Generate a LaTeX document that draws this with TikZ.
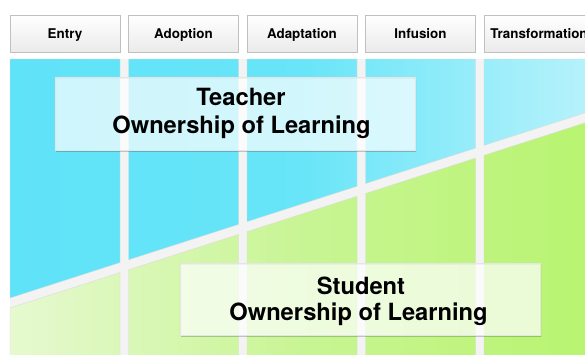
\documentclass[tikz,border=0pt]{standalone}
\usepackage{fontspec}
\setmainfont{TeX Gyre Heros}
\usepackage{tikz}

\definecolor{cellblue}{HTML}{5FE3F8}
\definecolor{cellbluemid}{HTML}{68E5F8}
\definecolor{cellbluelight}{HTML}{B8F2FB}
\definecolor{cellgreenpale}{HTML}{E6F9D0}
\definecolor{cellgreenmid}{HTML}{C8F594}
\definecolor{cellgreen}{HTML}{B8F470}
\definecolor{gapwhite}{HTML}{F3F3F3}
\definecolor{headline}{HTML}{C0C0C0}

\tikzset{
  headbox/.style={draw=headline, line width=0.5pt, top color=white, bottom color=black!8,
    minimum width=110pt, minimum height=37pt, inner sep=0pt,
    text height=9.5pt, text depth=0pt, font=\fontsize{13.4}{15}\selectfont\bfseries},
  panel/.style={fill=white, fill opacity=0.7, draw=black!10, line width=0.4pt, inner sep=0pt},
  panelshadow/.style={fill=black, opacity=0.2, even odd rule},
  celledge/.style={draw=black!14, line width=0.4pt},
  bigtext/.style={anchor=base, inner sep=0pt, font=\fontsize{23.7}{28}\selectfont\bfseries}
}

\begin{document}
\begin{tikzpicture}[x=1pt, y=-1pt]

\useasboundingbox (0,0) rectangle (585,354);
\clip (0,0) rectangle (585,354);

\fill[white] (0,0) rectangle (585,354);
\fill[gapwhite] (10,59) rectangle (594,360);

\begin{scope}
\clip \foreach \xl in {10,128.5,247,365.5,484} {
  (\xl,59) -- ({\xl+110},59) -- ({\xl+110},{301.22-0.322*(\xl+110)}) -- (\xl,{301.22-0.322*\xl}) -- cycle };
\shade[left color=cellblue, right color=cellbluelight, middle color=cellbluemid] (10,59) rectangle (594,360);
\end{scope}

\begin{scope}
\clip \foreach \xl in {10,128.5,247,365.5,484} {
  (\xl,{311.22-0.322*\xl}) -- ({\xl+110},{311.22-0.322*(\xl+110)}) -- ({\xl+110},360) -- (\xl,360) -- cycle };
\shade[left color=cellgreenpale, right color=cellgreen, middle color=cellgreenmid] (10,59) rectangle (594,360);
\end{scope}

\foreach \xl in {10,128.5,247,365.5,484} {
  \draw[celledge] (\xl,59) -- ({\xl+110},59) -- ({\xl+110},{301.22-0.322*(\xl+110)}) -- (\xl,{301.22-0.322*\xl}) -- cycle;
  \draw[celledge] (\xl,{311.22-0.322*\xl}) -- ({\xl+110},{311.22-0.322*(\xl+110)}) -- ({\xl+110},360) -- (\xl,360) -- cycle;
}

\node (entry) [headbox] at (65,33.5) {Entry};
\node (adoption) [headbox] at (183.5,33.5) {Adoption};
\node (adaptation) [headbox] at (302,33.5) {Adaptation};
\node (infusion) [headbox] at (420.5,33.5) {Infusion};
\node (transformation) [headbox] at (539,33.5) {Transformation};

\fill[panelshadow] (56,78.5) rectangle (416.2,151.8) (55,77) rectangle (415,150);
\node (teacherbox) [panel, minimum width=360pt, minimum height=73pt] at (235,113.5) {};
\node (teacher) [bigtext] at (241,105) {Teacher};
\node (teacherown) [bigtext] at (241.5,133) {Ownership of Learning};

\fill[panelshadow] (181,264.5) rectangle (541.2,336.8) (180,263) rectangle (540,335);
\node (studentbox) [panel, minimum width=360pt, minimum height=72pt] at (360,299) {};
\node (student) [bigtext] at (361,294) {Student};
\node (studentown) [bigtext] at (358.5,320) {Ownership of Learning};

\end{tikzpicture}
\end{document}
